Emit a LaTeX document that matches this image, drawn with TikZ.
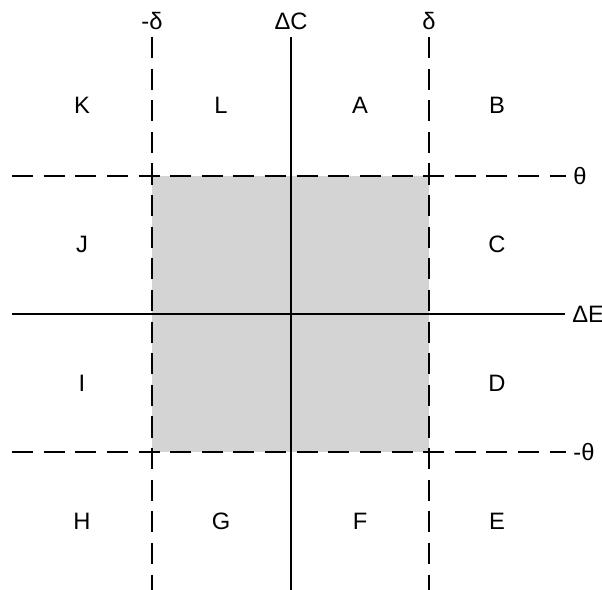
\documentclass[tikz,border=0pt]{standalone}
\usepackage{fontspec}
\setmainfont{Liberation Sans}
\usepackage{tikz}
\usetikzlibrary{positioning}
\tikzset{
  region/.style={font=\fontsize{13.5}{16}\selectfont, inner sep=0pt},
  axislabel/.style={font=\fontsize{13.5}{16}\selectfont, inner sep=4pt},
  axis/.style={line width=1.1pt},
  limit/.style={line width=1.1pt, dash pattern=on 12pt off 6pt},
  band/.style={fill=black!17, draw=none}
}
\begin{document}
\begin{tikzpicture}[x=0.02cm, y=-0.02cm]
    \useasboundingbox (0,0) rectangle (602,590);
    % zona gris central
    \fill[band] (152,176) rectangle (429,452);

    % etiquetas de los ejes
    \node (mdelta) [axislabel, anchor=south] at (152,37) {-δ};
    \node (dC) [axislabel, anchor=south] at (291,37) {ΔC};
    \node (pdelta) [axislabel, anchor=south] at (429,37) {δ};
    \node (ptheta) [axislabel, anchor=west] at (566,176) {θ};
    \node (dE) [axislabel, anchor=west] at (565,314) {ΔE};
    \node (mtheta) [axislabel, anchor=west] at (566,452) {-θ};

    % extremos libres
    \coordinate (mdeltabot) at (152,590);
    \coordinate (dCbot) at (291,590);
    \coordinate (pdeltabot) at (429,590);
    \coordinate (pthetaleft) at (12,176);
    \coordinate (dEleft) at (12,314);
    \coordinate (mthetaleft) at (12,452);

    \draw [limit] (mdelta.south) -- (mdeltabot);
    \draw [limit] (pdelta.south) -- (pdeltabot);
    \draw [limit] (pthetaleft) -- (ptheta.west);
    \draw [limit] (mthetaleft) -- (mtheta.west);
    \draw [axis] (dC.south) -- (dCbot);
    \draw [axis] (dEleft) -- (dE.west);

    % regiones
    \node (K) [region] at (82,105) {K};
    \node (L) [region] at (221,105) {L};
    \node (A) [region] at (360,105) {A};
    \node (B) [region] at (497,105) {B};
    \node (J) [region] at (82,244) {J};
    \node (C) [region] at (497,244) {C};
    \node (I) [region] at (82,383) {I};
    \node (D) [region] at (497,383) {D};
    \node (H) [region] at (82,521) {H};
    \node (G) [region] at (221,521) {G};
    \node (F) [region] at (360,521) {F};
    \node (E) [region] at (497,521) {E};
\end{tikzpicture}
\end{document}
